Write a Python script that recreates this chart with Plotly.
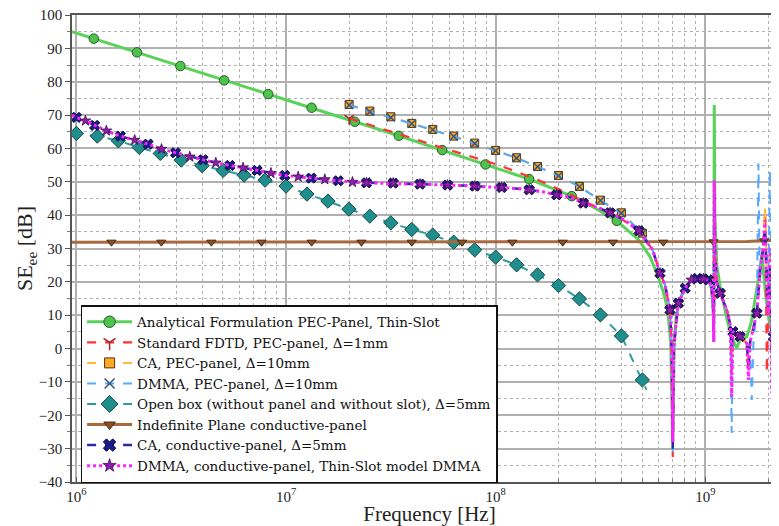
import plotly.graph_objects as go

# ---------------- data (frequency exponents log10(Hz), SE in dB) ----------------
green_logf = [5.979, 6.0, 6.083, 6.289, 6.496, 6.705, 6.915, 7.122, 7.328, 7.538, 7.745, 7.952,
              8.16, 8.363, 8.45, 8.578, 8.684, 8.737, 8.769, 8.80, 8.82, 8.835, 8.845, 8.852,
              8.862, 8.877, 8.905, 8.933, 8.962, 8.99, 9.015, 9.030, 9.038, 9.041, 9.043, 9.046,
              9.055, 9.071, 9.103, 9.126, 9.15, 9.166, 9.198, 9.22, 9.246, 9.27, 9.29, 9.31,
              9.33, 9.36, 9.39]
green_db = [95.0, 94.6, 92.9, 88.8, 84.7, 80.4, 76.3, 72.2, 68.0, 63.8, 59.5, 55.2,
            50.8, 45.7, 43.0, 38.3, 32.5, 27.5, 22.6, 17.0, 12.0, 2.0, -28.0, 2.0,
            10.0, 14.5, 18.5, 20.4, 21.0, 20.9, 20.5, 18.0, 12.0, 8.0, 73.0, 40.0,
            25.0, 18.6, 9.0, 3.5, 0.1, 2.6, 3.5, 8.0, 18.0, 28.0, 15.0, 6.0,
            15.0, 26.0, 28.0]
green_mk = [2, 3, 4, 5, 6, 7, 8, 9, 10, 11, 12, 13, 15]

red_logf = [7.301, 7.40, 7.50, 7.60, 7.70, 7.80, 7.90, 8.00, 8.10, 8.20, 8.30, 8.40, 8.50,
            8.60, 8.684, 8.749, 8.784, 8.808, 8.832, 8.840, 8.845, 8.850, 8.860, 8.872,
            8.904, 8.933, 8.962, 8.991, 9.015, 9.030, 9.038, 9.041, 9.043, 9.046, 9.055,
            9.071, 9.103, 9.120, 9.126, 9.132, 9.166, 9.198, 9.206, 9.214, 9.246, 9.262,
            9.276, 9.286, 9.290, 9.294, 9.300, 9.310, 9.317, 9.325, 9.341, 9.355, 9.39]
red_db = [69.0, 67.1, 65.1, 63.1, 61.1, 59.1, 57.1, 55.3, 53.0, 50.6, 47.8, 44.8, 41.8,
          38.9, 35.3, 29.6, 22.6, 19.1, 11.6, 0.0, -32.5, 0.0, 7.0, 13.6,
          18.1, 20.6, 21.0, 20.9, 20.6, 18.5, 12.0, 2.0, 50.5, 30.0, 20.0,
          16.6, 11.6, 7.0, -8.0, 5.1, 3.6, 1.6, -7.0, 2.0, 10.6, 23.6,
          30.0, 41.0, 20.0, -7.4, 12.0, 28.0, -5.0, 3.6, 14.6, 24.0, 28.0]
red_mk = [0]

ca_pec_logf = [7.301, 7.40, 7.50, 7.60, 7.70, 7.80, 7.90, 8.00, 8.10, 8.20, 8.30, 8.40, 8.50,
               8.60, 8.70, 8.749, 8.784, 8.808, 8.832, 8.840, 8.845, 8.850, 8.860, 8.872,
               8.904, 8.933, 8.962, 8.991, 9.015, 9.030, 9.038, 9.041, 9.043, 9.046, 9.055,
               9.071, 9.103, 9.120, 9.126, 9.132, 9.166, 9.198, 9.206, 9.214, 9.246, 9.262,
               9.276, 9.285, 9.292, 9.300, 9.310, 9.322, 9.330, 9.341, 9.355, 9.39]
ca_pec_db = [73.2, 71.2, 69.5, 67.5, 65.7, 63.7, 61.6, 59.4, 57.2, 54.6, 51.9, 48.6, 44.5,
             40.7, 34.6, 29.6, 22.6, 19.1, 11.6, 0.0, -30.0, 0.0, 7.0, 13.6,
             18.1, 20.6, 21.0, 20.9, 20.6, 18.5, 12.0, 2.1, 48.0, 30.0, 20.0,
             16.6, 11.6, 7.0, -5.0, 5.1, 3.6, 1.6, -6.0, 2.0, 10.6, 23.6,
             32.0, 42.0, 25.0, 15.0, 30.0, -20.8, 3.6, 14.6, 24.0, 28.0]
ca_pec_mk = list(range(0, 15))

dmma_pec_logf = [7.301, 7.40, 7.50, 7.60, 7.70, 7.80, 7.90, 8.00, 8.10, 8.20, 8.30, 8.40, 8.50,
                 8.60, 8.70, 8.749, 8.784, 8.808, 8.832, 8.840, 8.845, 8.850, 8.860, 8.872,
                 8.904, 8.933, 8.962, 8.991, 9.015, 9.030, 9.038, 9.041, 9.043, 9.046, 9.055,
                 9.071, 9.103, 9.120, 9.126, 9.132, 9.166, 9.198, 9.214, 9.222, 9.230, 9.246,
                 9.254, 9.260, 9.276, 9.290, 9.300, 9.309, 9.315, 9.325, 9.341, 9.355, 9.39]
dmma_pec_db = [73.0, 71.0, 69.3, 67.4, 65.6, 63.6, 61.5, 59.3, 57.1, 54.5, 51.8, 48.5, 44.4,
               40.6, 34.6, 29.6, 22.6, 19.1, 11.6, 0.0, -31.0, 0.0, 7.0, 13.6,
               18.1, 20.2, 20.6, 20.5, 20.2, 18.0, 12.0, 3.0, 48.0, 30.0, 20.0,
               16.6, 11.6, 7.0, -25.3, 5.1, 3.6, 1.6, 0.0, -15.4, 2.0, 12.0,
               55.5, 20.0, 30.0, 35.0, 15.0, 53.5, 5.0, 3.6, 14.6, 24.0, 28.0]
dmma_pec_mk = list(range(0, 15))

openbox_logf = [5.979, 6.0, 6.1, 6.2, 6.3, 6.4, 6.5, 6.6, 6.7, 6.8, 6.9, 7.0, 7.1, 7.2, 7.3,
                7.4, 7.5, 7.6, 7.7, 7.8, 7.9, 8.0, 8.1, 8.2, 8.3, 8.4, 8.5, 8.6, 8.7, 8.72]
openbox_db = [64.8, 64.5, 63.7, 62.3, 60.3, 58.5, 56.5, 54.8, 53.4, 52.0, 50.5, 48.7, 46.3,
              44.2, 41.8, 39.7, 37.7, 35.7, 34.0, 31.9, 29.6, 27.4, 25.1, 22.1, 18.9, 14.9,
              10.1, 3.8, -9.4, -12.4]
openbox_mk = list(range(1, 29))

plane_logf = [5.979, 6.167, 6.405, 6.644, 6.883, 7.122, 7.36, 7.60, 7.84, 8.08, 8.32, 8.56,
              8.80, 9.04, 9.20, 9.28, 9.39]
plane_db = [31.9, 31.9, 31.9, 31.9, 31.9, 31.9, 31.9, 31.9, 31.9, 31.9, 31.9, 31.9,
            31.9, 32.0, 32.1, 32.3, 32.6]
plane_mk = [1, 2, 3, 4, 5, 6, 7, 8, 9, 10, 11, 12, 13, 15]

cond_logf = [5.979, 6.0, 6.043, 6.087, 6.143, 6.21, 6.278, 6.342, 6.406, 6.473, 6.541, 6.604,
             6.665, 6.732, 6.795, 6.862, 6.928, 6.994, 7.058, 7.12, 7.185, 7.249, 7.317,
             7.384, 7.447, 7.511, 7.575, 7.639, 7.705, 7.771, 7.836, 7.901, 7.965, 8.029,
             8.095, 8.16, 8.225, 8.291, 8.355, 8.418, 8.487, 8.546, 8.614, 8.684, 8.749,
             8.784, 8.808, 8.832, 8.840, 8.845, 8.850, 8.860, 8.872, 8.904, 8.933, 8.962,
             8.991, 9.015, 9.030, 9.038, 9.041, 9.043, 9.046, 9.055, 9.071, 9.103, 9.120,
             9.126, 9.132, 9.166, 9.198, 9.206, 9.214, 9.246, 9.262, 9.276, 9.285, 9.292,
             9.300, 9.310, 9.317, 9.325, 9.341, 9.355, 9.39]
ca_cond_db = [70.0, 69.3, 68.3, 66.9, 65.3, 63.7, 62.5, 61.3, 59.8, 58.7, 57.5, 56.6,
              55.7, 54.9, 54.2, 53.4, 52.6, 51.9, 51.5, 51.1, 50.7, 50.3, 49.9,
              49.7, 49.6, 49.6, 49.4, 49.3, 49.1, 49.0, 48.9, 48.7, 48.5, 48.3,
              48.0, 47.6, 47.0, 46.1, 45.4, 43.6, 42.3, 40.7, 38.5, 35.3, 29.6,
              22.6, 19.1, 11.6, 0.0, -30.0, 0.0, 7.0, 13.6, 18.1, 20.6, 21.0,
              20.9, 20.6, 18.5, 12.0, 2.0, 46.0, 30.0, 20.0, 16.6, 11.6, 7.0,
              0.0, 5.1, 3.6, 1.6, -5.0, 2.0, 10.6, 23.6, 30.0, 36.0, 22.0,
              12.0, 25.0, -2.0, 3.6, 14.6, 24.0, 28.0]
dmma_cond_db = [70.0, 69.3, 68.3, 66.9, 65.3, 63.7, 62.5, 61.3, 59.8, 58.7, 57.5, 56.6,
                55.7, 54.9, 54.2, 53.4, 52.6, 51.9, 51.5, 51.1, 50.7, 50.3, 49.9,
                49.7, 49.6, 49.6, 49.4, 49.3, 49.1, 49.0, 48.9, 48.7, 48.5, 48.3,
                48.0, 47.6, 47.0, 46.1, 45.4, 43.6, 42.3, 40.7, 38.5, 35.3, 29.6,
                22.6, 19.1, 11.6, 0.0, -28.0, 0.0, 7.0, 13.6, 18.1, 20.6, 21.0,
                20.9, 20.6, 18.5, 12.0, 2.0, 50.5, 30.0, 20.0, 16.6, 11.6, 7.0,
                -14.4, 5.1, 3.6, 1.6, -9.4, 2.0, 10.6, 23.6, 30.0, 38.5, 20.0,
                10.0, 30.0, -13.4, 3.6, 14.6, 24.0, 28.0]
ca_cond_mk = [1, 3, 5, 7, 9, 11, 13, 15, 17, 19, 21, 23, 25, 27, 29, 31, 33, 35, 37, 39, 41,
              43, 45, 47, 52, 53, 55, 56, 57, 64, 68, 69, 73, 81]
dmma_cond_mk = [2, 4, 6, 8, 10, 12, 14, 16, 18, 20, 22, 23, 25, 27, 29, 31, 33, 35, 37, 39,
                41, 43, 45, 47, 52, 54, 56, 64, 69, 73]

x_tick_vals = [1e6, 1e7, 1e8, 1e9]
x_tick_text = ["10<sup>6</sup>", "10<sup>7</sup>", "10<sup>8</sup>", "10<sup>9</sup>"]
y_tick_vals = [100, 90, 80, 70, 60, 50, 40, 30, 20, 10, 0, -10, -20, -30, -40]

series_names = [
    "Analytical Formulation PEC-Panel, Thin-Slot",
    "Standard FDTD, PEC-panel, Δ=1mm",
    "CA, PEC-panel, Δ=10mm",
    "DMMA, PEC-panel, Δ=10mm",
    "Open box (without panel and without slot), Δ=5mm",
    "Indefinite Plane conductive-panel",
    "CA, conductive-panel, Δ=5mm",
    "DMMA, conductive-panel, Thin-Slot model DMMA",
]

# ---------------- styles ----------------
FONT = "Liberation Serif"
LFONT = "DejaVu Serif"
styles = [
    dict(lf=green_logf, db=green_db, mk=green_mk, color="#5ad25a", width=3, dash="solid",
         symbol="circle", msize=9.5, mfill="#4cc44c", mline="#2a5a2a", mlw=1),
    dict(lf=red_logf, db=red_db, mk=red_mk, color="#ff3333", width=2.2, dash="dash",
         symbol="y-down", msize=8, mfill="#cc2222", mline="#aa2222", mlw=1.5),
    dict(lf=ca_pec_logf, db=ca_pec_db, mk=ca_pec_mk, color="#ffb833", width=2, dash="dash",
         symbol="square", msize=8, mfill="#ffaa22", mline="#553311", mlw=1),
    dict(lf=dmma_pec_logf, db=dmma_pec_db, mk=dmma_pec_mk, color="#55aaff", width=2, dash="dash",
         symbol="x-thin", msize=8, mfill="#335577", mline="#335577", mlw=1.5),
    dict(lf=openbox_logf, db=openbox_db, mk=openbox_mk, color="#2e9c9a", width=2, dash="dash",
         symbol="diamond", msize=11, mfill="#1f8e8c", mline="#124848", mlw=1),
    dict(lf=plane_logf, db=plane_db, mk=plane_mk, color="#a8693f", width=3, dash="solid",
         symbol="triangle-down", msize=8, mfill="#8a5028", mline="#4a2a10", mlw=1),
    dict(lf=cond_logf, db=ca_cond_db, mk=ca_cond_mk, color="#2b2b9c", width=2.5, dash="dash",
         symbol="x", msize=9, mfill="#1a1a88", mline="#0a0a40", mlw=1),
    dict(lf=cond_logf, db=dmma_cond_db, mk=dmma_cond_mk, color="#ff22ff", width=3, dash="dot",
         symbol="star", msize=8, mfill="#8a22aa", mline="#440a55", mlw=0.8),
]

fig = go.Figure()
for name, s in zip(series_names, styles):
    xs = [10 ** v for v in s["lf"]]
    ys = s["db"]
    fig.add_trace(go.Scatter(
        x=xs, y=ys, mode="lines", showlegend=False, legendgroup=name, hoverinfo="skip",
        line=dict(color=s["color"], width=s["width"], dash=s["dash"]),
    ))
    mx = [xs[i] for i in s["mk"]]
    my = [ys[i] for i in s["mk"]]
    fig.add_trace(go.Scatter(
        x=mx, y=my, mode="markers", showlegend=False, legendgroup=name,
        marker=dict(symbol=s["symbol"], size=s["msize"], color=s["mfill"],
                    line=dict(color=s["mline"], width=s["mlw"])),
    ))
for name, s in zip(series_names, styles):
    fig.add_trace(go.Scatter(
        x=[None], y=[None], mode="lines+markers", name=name, legendgroup=name,
        line=dict(color=s["color"], width=s["width"], dash=s["dash"]),
        marker=dict(symbol=s["symbol"], size=s["msize"] + 2, color=s["mfill"],
                    line=dict(color=s["mline"], width=s["mlw"])),
    ))

# The page body adds an 8px offset; the figure is sized so the visible part
# (779x526 window) matches the reference, with the plot cropped on the right.
grid_c = "#b0b0b0"
fig.update_layout(
    width=779, height=518,
    margin=dict(l=64, r=0, t=7, b=44, autoexpand=False),
    paper_bgcolor="white", plot_bgcolor="white",
    font=dict(family=FONT, size=15, color="#222222"),
    showlegend=True,
    legend=dict(
        x=0.012, y=0.379, xanchor="left", yanchor="top",
        bgcolor="white", bordercolor="#111111", borderwidth=1.5,
        font=dict(family=LFONT, size=13.5, color="#111111"),
        itemwidth=45, tracegroupgap=0,
    ),
    xaxis=dict(
        type="log", range=[5.979, 9.390],
        tickvals=x_tick_vals, ticktext=x_tick_text,
        showgrid=True, gridcolor=grid_c, gridwidth=1.5,
        showline=True, linecolor="#555555", linewidth=1.5, mirror=True,
        ticks="inside", ticklen=5, tickcolor="#555555",
        ticklabeloverflow="allow",
        minor=dict(dtick="D1", showgrid=True, gridcolor=grid_c, griddash="dot",
                   gridwidth=1, ticks="inside", ticklen=3, tickcolor="#777777"),
        title=dict(text="Frequency [Hz]", font=dict(family=FONT, size=21), standoff=1),
        zeroline=False,
    ),
    yaxis=dict(
        range=[-40, 100], tickvals=y_tick_vals,
        showgrid=True, gridcolor=grid_c, gridwidth=1.5,
        showline=True, linecolor="#555555", linewidth=1.5,
        ticks="outside", ticklen=5, tickcolor="#555555",
        ticklabeloverflow="allow",
        minor=dict(dtick=5, showgrid=True, gridcolor=grid_c, griddash="dot",
                   gridwidth=1, ticks="outside", ticklen=3, tickcolor="#777777"),
        title=dict(text="SE<sub>ee</sub> [dB]", font=dict(family=FONT, size=22), standoff=0),
        zeroline=False,
    ),
)

fig.write_html("out.html")
